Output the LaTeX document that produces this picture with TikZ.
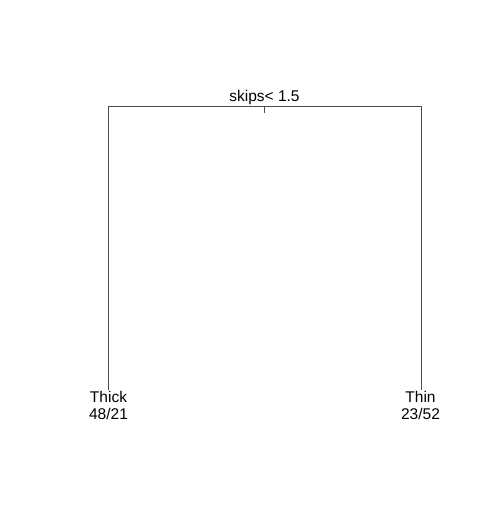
\documentclass[tikz,border=0pt]{standalone}
\usepackage{fontspec}
\setmainfont{Liberation Sans}
\begin{document}
\begin{tikzpicture}[x=1pt,y=-1pt,
  edge/.style={draw=black!70,line width=0.8pt},
  lbl/.style={inner sep=0pt,anchor=base,font=\fontsize{15.5}{17}\selectfont}]
\useasboundingbox (0,0) rectangle (491,524);
\coordinate (root) at (264.5,106);
\coordinate (rtick) at (264.5,113);
\coordinate (lt) at (108,106);
\coordinate (rt) at (421,106);
\coordinate (lb) at (108,390);
\coordinate (rb) at (421,390);
\draw[edge] (lb) -- (lt) -- (rt) -- (rb);
\draw[edge] (root) -- (rtick);
\node[lbl] (split) at (264.5,102) {skips< 1.5};
\node[lbl] (thick) at (108.5,402) {Thick};
\node[lbl] (thickn) at (108.5,419) {48/21};
\node[lbl] (thin) at (420.5,402) {Thin};
\node[lbl] (thinn) at (420.5,419) {23/52};
\end{tikzpicture}
\end{document}
